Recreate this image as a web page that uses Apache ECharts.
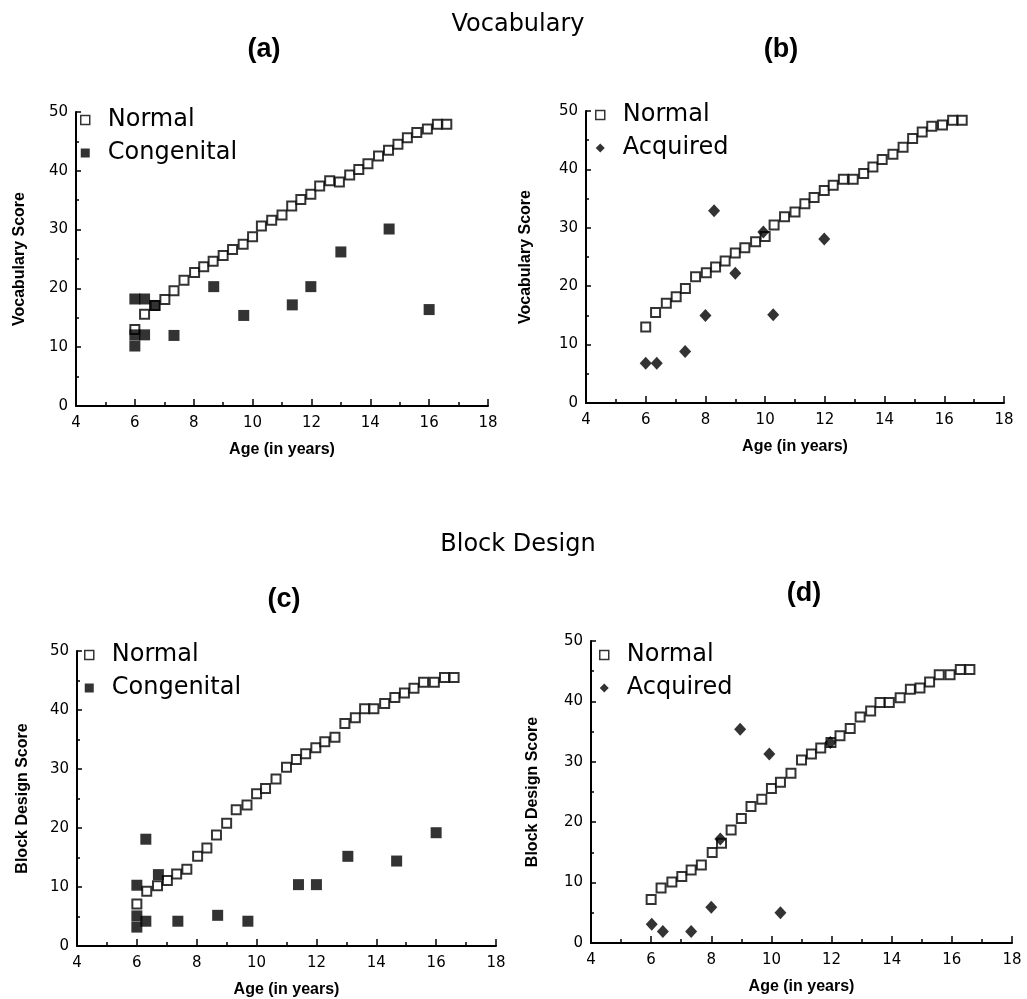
<!DOCTYPE html>
<html>
<head>
<meta charset="utf-8">
<title>Vocabulary / Block Design</title>
<script src="https://cdn.jsdelivr.net/npm/echarts@6/dist/echarts.min.js"></script>
<style>
  html, body { margin: 0; padding: 0; background: #fff; }
  #chart { width: 1027px; height: 999px; }
</style>
</head>
<body>
<div id="chart"></div>
<script>
// ages of the normal (norm) groups, one point every 4 months
var normAges = [6.0, 6.33, 6.69, 7.02, 7.33, 7.67, 8.03, 8.34, 8.66, 9.0, 9.32, 9.68, 10.0,
    10.3, 10.65, 11.0, 11.33, 11.64, 11.98, 12.28, 12.62, 12.95, 13.3, 13.61, 13.92, 14.28,
    14.62, 14.94, 15.26, 15.58, 15.94, 16.28, 16.6];

// vocabulary, normal (panels a and b)
var vocabNormalA = [13.0, 15.6, 17.1, 18.1, 19.6, 21.4, 22.7, 23.7, 24.6, 25.6, 26.6, 27.5, 28.8,
    30.6, 31.6, 32.5, 34.0, 35.1, 36.0, 37.4, 38.3, 38.1, 39.3, 40.2, 41.2, 42.5,
    43.5, 44.5, 45.6, 46.5, 47.1, 47.9, 47.9];
var vocabNormalB = [13.0, 15.5, 17.1, 18.2, 19.6, 21.6, 22.3, 23.3, 24.3, 25.7, 26.6, 27.6, 28.5,
    30.5, 31.9, 32.7, 34.1, 35.2, 36.4, 37.3, 38.3, 38.3, 39.3, 40.4, 41.7, 42.6,
    43.8, 45.3, 46.4, 47.4, 47.6, 48.4, 48.4];
// block design, normal (panels c and d)
var blockNormalC = [7.1, 9.3, 10.2, 11.1, 12.2, 13.0, 15.2, 16.6, 18.8, 20.8, 23.1, 23.9, 25.8,
    26.7, 28.3, 30.3, 31.6, 32.6, 33.6, 34.6, 35.4, 37.7, 38.7, 40.2, 40.2, 41.1,
    42.1, 42.9, 43.7, 44.7, 44.7, 45.5, 45.5];
var blockNormalD = [7.2, 9.1, 10.1, 11.0, 12.1, 12.9, 15.0, 16.5, 18.7, 20.6, 22.6, 23.8, 25.6,
    26.6, 28.1, 30.3, 31.3, 32.3, 33.2, 34.3, 35.5, 37.4, 38.4, 39.8, 39.8, 40.6,
    42.0, 42.2, 43.2, 44.4, 44.4, 45.3, 45.3];

// congenital group
var congVocabAge   = [6.0, 6.33, 6.0, 6.33, 6.0, 6.67, 7.33, 8.68, 9.7, 11.35, 11.98, 13.0, 14.64, 16.0];
var congVocabScore = [18.2, 18.2, 12.1, 12.1, 10.2, 17.1, 12.0, 20.3, 15.4, 17.2, 20.3, 26.2, 30.1, 16.4];
var congBlockAge   = [6.0, 6.0, 6.0, 6.3, 6.3, 6.72, 7.37, 8.7, 9.71, 11.4, 12.0, 13.05, 14.68, 16.0];
var congBlockScore = [10.3, 5.1, 3.2, 18.1, 4.2, 12.1, 4.2, 5.2, 4.2, 10.4, 10.4, 15.2, 14.4, 19.2];

// acquired group
var acqVocabAge    = [6.0, 6.37, 7.32, 8.0, 8.29, 9.0, 9.94, 10.27, 11.98];
var acqVocabScore  = [6.8, 6.8, 8.8, 15.0, 32.9, 22.2, 29.3, 15.1, 28.1];
var acqBlockAge    = [6.02, 6.39, 7.33, 8.0, 8.3, 8.96, 9.93, 10.3, 11.96];
var acqBlockScore  = [3.1, 1.9, 1.9, 5.9, 17.2, 35.4, 31.3, 5.0, 33.2];

var xTicks = [4, 18, 2];   // min, max, step
var yTicks = [0, 50, 10];

function pairs(xs, ys) {
    return xs.map(function (x, i) { return [x, ys[i]]; });
}

var sans = 'DejaVu Sans';
var bold = 'Liberation Sans';

// panel boxes [left, top, width, height]
var boxes = [
    [76, 112, 412, 294],
    [586, 111, 418, 292],
    [77, 651, 419, 297],
    [591, 641, 421, 302]
];
var yNames = ['Vocabulary Score', 'Vocabulary Score', 'Block Design Score', 'Block Design Score'];
var yGaps = [48, 52, 46, 50];

var grids = [], xAxes = [], yAxes = [], legends = [];
boxes.forEach(function (b, i) {
    grids.push({left: b[0], top: b[1], width: b[2], height: b[3]});
    xAxes.push({
        type: 'value', gridIndex: i, min: xTicks[0], max: xTicks[1], interval: xTicks[2],
        name: 'Age (in years)', nameLocation: 'middle', nameGap: 36,
        nameTextStyle: {fontFamily: bold, fontWeight: 'bold', fontSize: 16, color: '#000'},
        axisLine: {lineStyle: {color: '#000', width: 2}},
        axisTick: {inside: true, length: 7, lineStyle: {color: '#000', width: 1.5}},
        minorTick: {show: true, splitNumber: 2, length: 4, lineStyle: {color: '#000', width: 1.5}},
        axisLabel: {fontFamily: sans, fontSize: 15, color: '#000', margin: 10},
        splitLine: {show: false}
    });
    yAxes.push({
        type: 'value', gridIndex: i, min: yTicks[0], max: yTicks[1], interval: yTicks[2],
        name: yNames[i], nameLocation: 'middle', nameGap: yGaps[i],
        nameTextStyle: {fontFamily: bold, fontWeight: 'bold', fontSize: 16, color: '#000'},
        axisLine: {lineStyle: {color: '#000', width: 2}},
        axisTick: {inside: true, length: 5, lineStyle: {color: '#000', width: 1.5}},
        minorTick: {show: true, splitNumber: 2, length: 3, lineStyle: {color: '#000', width: 1.5}},
        axisLabel: {fontFamily: sans, fontSize: 15, color: '#000', margin: 8},
        splitLine: {show: false}
    });
});

var legendPos = [[80, 106], [595, 101], [84, 641], [599, 641]];
var groupNames = ['Congenital', 'Acquired', 'Congenital', 'Acquired'];
legendPos.forEach(function (p, i) {
    legends.push({
        orient: 'vertical', left: p[0], top: p[1], itemGap: 5, padding: 0,
        itemWidth: 9, itemHeight: 9, selectedMode: false,
        textStyle: {fontFamily: sans, fontSize: 24, lineHeight: 28, color: '#000', padding: [0, 0, 0, 13]},
        data: [
            {name: 'Normal', icon: 'rect',
             itemStyle: {color: '#fff', borderColor: '#000', borderWidth: 1.5}},
            {name: groupNames[i], icon: groupNames[i] === 'Acquired' ? 'diamond' : 'rect',
             itemStyle: {color: '#000', borderWidth: 0}}
        ]
    });
});

var openSq = {symbol: 'rect', symbolSize: 9, itemStyle: {color: '#fff', borderColor: '#000', borderWidth: 2}};
var fillSq = {symbol: 'rect', symbolSize: 11, itemStyle: {color: '#000'}};
var fillDm = {symbol: 'diamond', symbolSize: [12, 13], itemStyle: {color: '#000'}};

function scatter(name, idx, data, style, z) {
    return {
        name: name, type: 'scatter', xAxisIndex: idx, yAxisIndex: idx, data: data,
        symbol: style.symbol, symbolSize: style.symbolSize, itemStyle: style.itemStyle,
        z: z, silent: true, animation: false
    };
}

var titleFont = {fontFamily: sans, fontSize: 24, fontWeight: 'normal', color: '#000'};
var panelFont = {fontFamily: bold, fontSize: 27, fontWeight: 'bold', color: '#000'};

var myChart = echarts.init(document.getElementById('chart'));
var option = {
    backgroundColor: '#fff',
    animation: false,
    title: [
        {text: 'Vocabulary', left: 513, top: 8, textAlign: 'center', textStyle: titleFont},
        {text: '(a)', left: 259, top: 31, textAlign: 'center', textStyle: panelFont},
        {text: '(b)', left: 776, top: 31, textAlign: 'center', textStyle: panelFont},
        {text: 'Block Design', left: 513, top: 528, textAlign: 'center', textStyle: titleFont},
        {text: '(c)', left: 279, top: 581, textAlign: 'center', textStyle: panelFont},
        {text: '(d)', left: 799, top: 575, textAlign: 'center', textStyle: panelFont}
    ],
    legend: legends,
    grid: grids,
    xAxis: xAxes,
    yAxis: yAxes,
    series: [
        scatter('Normal', 0, pairs(normAges, vocabNormalA), openSq, 2),
        scatter('Congenital', 0, pairs(congVocabAge, congVocabScore), fillSq, 3),
        scatter('Normal', 1, pairs(normAges, vocabNormalB), openSq, 2),
        scatter('Acquired', 1, pairs(acqVocabAge, acqVocabScore), fillDm, 3),
        scatter('Normal', 2, pairs(normAges, blockNormalC), openSq, 2),
        scatter('Congenital', 2, pairs(congBlockAge, congBlockScore), fillSq, 3),
        scatter('Normal', 3, pairs(normAges, blockNormalD), openSq, 2),
        scatter('Acquired', 3, pairs(acqBlockAge, acqBlockScore), fillDm, 3)
    ]
};
myChart.setOption(option);
</script>
</body>
</html>
